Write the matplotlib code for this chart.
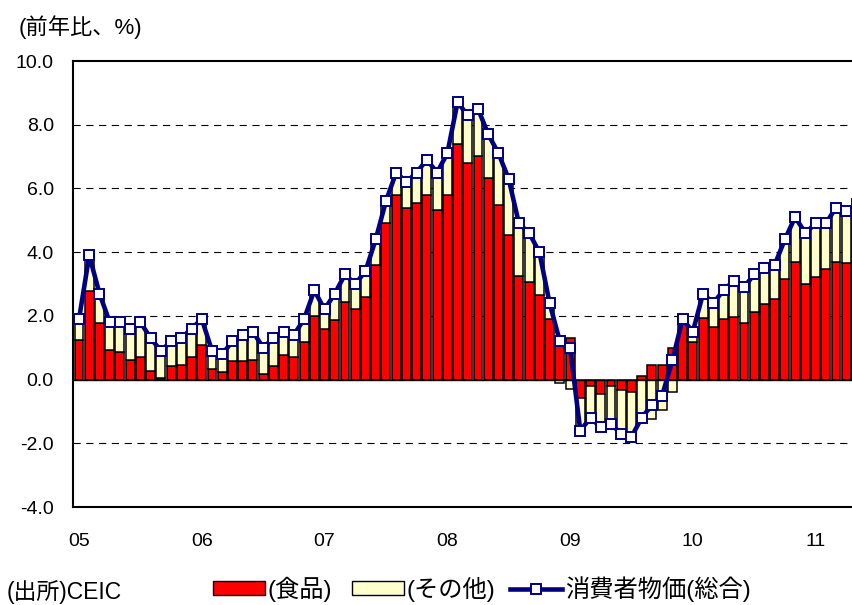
import matplotlib
matplotlib.use("Agg")
import matplotlib.pyplot as plt
import numpy as np
from matplotlib.patches import Patch
from matplotlib.lines import Line2D

plt.rcParams['font.family'] = ['Liberation Sans', 'Noto Sans CJK JP', 'DejaVu Sans']

# Monthly data Jan 2005 - May 2011 (y/y %)
cpi = [1.9, 3.9, 2.7, 1.8, 1.8, 1.6, 1.8, 1.3, 0.9, 1.2, 1.3, 1.6,
       1.9, 0.9, 0.8, 1.2, 1.4, 1.5, 1.0, 1.3, 1.5, 1.4, 1.9, 2.8,
       2.2, 2.7, 3.3, 3.0, 3.4, 4.4, 5.6, 6.5, 6.2, 6.5, 6.9, 6.5,
       7.1, 8.7, 8.3, 8.5, 7.7, 7.1, 6.3, 4.9, 4.6, 4.0, 2.4, 1.2,
       1.0, -1.6, -1.2, -1.5, -1.4, -1.7, -1.8, -1.2, -0.8, -0.5, 0.6, 1.9,
       1.5, 2.7, 2.4, 2.8, 3.1, 2.9, 3.3, 3.5, 3.6, 4.4, 5.1, 4.6,
       4.9, 4.9, 5.4, 5.3, 5.5]
food = [1.23, 2.77, 1.77, 0.92, 0.88, 0.63, 0.71, 0.27, 0.06, 0.42, 0.46, 0.71,
        1.10, 0.33, 0.23, 0.58, 0.58, 0.63, 0.17, 0.42, 0.76, 0.71, 1.17, 2.00,
        1.59, 1.88, 2.42, 2.23, 2.59, 3.61, 4.91, 5.80, 5.39, 5.55, 5.80, 5.31,
        5.80, 7.39, 6.80, 7.03, 6.33, 5.49, 4.55, 3.24, 3.06, 2.64, 1.90, 1.30,
        1.30, -0.59, -0.21, -0.44, -0.21, -0.33, -0.39, 0.10, 0.45, 0.45, 1.00, 1.90,
        1.18, 1.94, 1.66, 1.89, 1.95, 1.78, 2.11, 2.36, 2.54, 3.17, 3.70, 3.00,
        3.23, 3.47, 3.70, 3.65, 3.70]
year_labels = ['05', '06', '07', '08', '09', '10', '11']
series_names = ['(食品)', '(その他)', '消費者物価(総合)']

cpi_a = np.array(cpi)
food_a = np.array(food)
other_a = np.round(cpi_a - food_a, 2)
x = np.arange(len(cpi_a))
other_bottom = np.where(np.sign(other_a) == np.sign(food_a), food_a, 0.0)

RED = '#FF0000'
YEL = '#FFFFCC'
NAVY = '#000080'

fig = plt.figure(figsize=(8.52, 6.05), dpi=100)
ax = fig.add_axes([73.3/852, 1-507/605, 1-73.3/852, (507-61)/605])

for yv in [-2, 2, 4, 6, 8]:
    ax.axhline(yv, color='black', lw=0.8, ls=(0, (6.5, 5)), zorder=1)

w = 0.87
ax.bar(x, food_a, width=w, color=RED, edgecolor='black', linewidth=1.1, zorder=2)
ax.bar(x, other_a, width=w, bottom=other_bottom, color=YEL, edgecolor='black',
       linewidth=1.1, zorder=2)
ax.axhline(0, color='black', lw=1.0, zorder=2.5)
ax.plot(x, cpi_a, color=NAVY, lw=3.3, marker='s', markersize=7.3,
        markerfacecolor='white', markeredgecolor=NAVY, markeredgewidth=1.4, zorder=3)

ax.set_ylim(-4, 10)
ax.set_xlim(-0.56, 75.56)
yt = np.arange(-4, 10.1, 2)
ax.set_yticks(yt)
ax.set_yticklabels([f'{v:.1f}' for v in yt], fontsize=14)
ax.set_xticks(np.arange(0, len(cpi_a), 12))
ax.set_xticklabels(year_labels, fontsize=14)
ax.tick_params(axis='both', length=0)
ax.tick_params(axis='y', pad=14)
ax.tick_params(axis='x', pad=19)
for s in ['left', 'top', 'bottom']:
    ax.spines[s].set_linewidth(1.5)
ax.spines['right'].set_visible(False)

fig.text(19/852, 1-27/605, '(前年比、%)', fontsize=16, va='center', ha='left')
fig.text(7/852, 1-592/605, '(出所)CEIC', fontsize=16.5, va='center', ha='left')

handles = [Patch(facecolor=RED, edgecolor='black', linewidth=1.0),
           Patch(facecolor=YEL, edgecolor='black', linewidth=1.0),
           Line2D([0], [0], color=NAVY, lw=3.3, marker='s', markersize=7.3,
                  markerfacecolor='white', markeredgecolor=NAVY, markeredgewidth=1.4)]
leg_x = [213, 352, 510]
fs = 17.5
for h, name, lx in zip(handles, series_names, leg_x):
    fig.legend([h], [name], loc='center left', bbox_to_anchor=(lx/852, 1-589/605),
               frameon=False, fontsize=fs, handlelength=52/(fs*100/72),
               handleheight=0.5, handletextpad=0.12, numpoints=1,
               borderpad=0, borderaxespad=0)

fig.savefig('out.png', dpi=100)
